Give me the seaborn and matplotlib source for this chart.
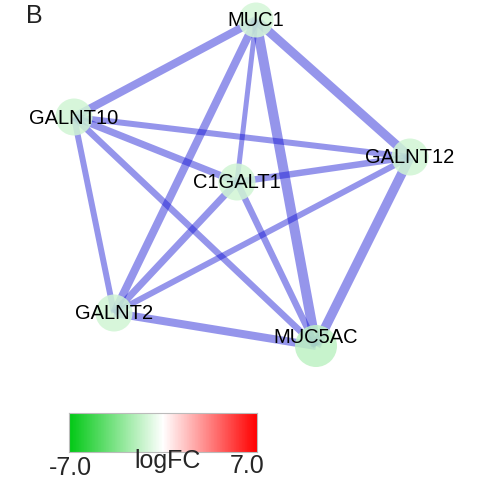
import numpy as np
import pandas as pd
import matplotlib
matplotlib.use('Agg')
import matplotlib.pyplot as plt
from matplotlib.colors import LinearSegmentedColormap
import seaborn as sns

# nodes (layout positions, y grows downward), logFC and node size
genes = ["MUC1", "GALNT10", "GALNT12", "C1GALT1", "GALNT2", "MUC5AC"]
node_x = [256, 74, 410, 237, 114, 316]
node_y = [21, 118, 158, 183, 314, 347]
logfc = [-1.2, -1.3, -1.3, -1.3, -1.3, -1.8]
node_d = [35, 37, 37, 37, 37, 42]

# edges and their scores (drawn as line width, px)
edge_a = ["MUC1", "MUC1", "MUC1", "MUC1", "MUC1",
          "GALNT10", "GALNT10", "GALNT10", "GALNT10",
          "GALNT12", "GALNT12", "GALNT12",
          "C1GALT1", "C1GALT1", "GALNT2"]
edge_b = ["GALNT10", "GALNT12", "C1GALT1", "MUC5AC", "GALNT2",
          "GALNT12", "C1GALT1", "GALNT2", "MUC5AC",
          "C1GALT1", "GALNT2", "MUC5AC",
          "GALNT2", "MUC5AC", "MUC5AC"]
edge_w = [8.0, 9.0, 5.0, 10.0, 8.0,
          6.0, 7.0, 6.0, 6.5,
          6.5, 6.0, 9.5,
          7.0, 6.5, 8.0]

cbar_min, cbar_max = -7.0, 7.0

sns.set_style("white")
plt.rcParams['font.family'] = ['Liberation Sans', 'DejaVu Sans']

cmap = LinearSegmentedColormap.from_list("gwr", ["#00c814", "#ffffff", "#ff0000"])

pos = {g: (x, y) for g, x, y in zip(genes, node_x, node_y)}
px = 0.72  # points per pixel
nodes = pd.DataFrame({"gene": genes, "x": node_x, "y": node_y, "logFC": logfc,
                      "area": [(d * px) ** 2 for d in node_d]})

fig = plt.figure(figsize=(4.85, 4.85), dpi=100)
ax = fig.add_axes([0, 0, 1, 1])

for a, b, w in zip(edge_a, edge_b, edge_w):
    seg = pd.DataFrame({"x": [pos[a][0], pos[b][0]], "y": [pos[a][1], pos[b][1]]})
    sns.lineplot(data=seg, x="x", y="y", estimator=None, sort=False, color="#0b0bd2",
                 alpha=0.43, linewidth=w * px, solid_capstyle="butt", ax=ax, zorder=1)

sns.scatterplot(data=nodes, x="x", y="y", hue="logFC", palette=cmap,
                hue_norm=(cbar_min, cbar_max), size="area",
                sizes=(nodes["area"].min(), nodes["area"].max()), linewidth=0,
                alpha=0.85, legend=False, ax=ax, zorder=2)

for g, x, y in zip(genes, node_x, node_y):
    dy = -9 if g == "MUC5AC" else 0
    ax.text(x, y + dy, g, ha="center", va="center", fontsize=14.5, color="black", zorder=3)

ax.text(34, 16, "B", ha="center", va="center", fontsize=18, color="#222222")

ax.set_xlim(0, 485)
ax.set_ylim(485, 0)
ax.set_axis_off()

# colour scale
cax = fig.add_axes([69 / 485, 32 / 485, 188 / 485, 39 / 485])
grad = np.linspace(cbar_min, cbar_max, 256)[None, :]
sns.heatmap(grad, cmap=cmap, vmin=cbar_min, vmax=cbar_max, cbar=False,
            xticklabels=False, yticklabels=False, ax=cax)
for sp in cax.spines.values():
    sp.set_visible(True)
    sp.set_color("#bbbbbb")
    sp.set_linewidth(0.8)

fig.text(70 / 485, 1 - 468 / 485, f"{cbar_min:.1f}", ha="center", va="center", fontsize=18)
fig.text(168 / 485, 1 - 461 / 485, "logFC", ha="center", va="center", fontsize=18)
fig.text(247 / 485, 1 - 466 / 485, f"{cbar_max:.1f}", ha="center", va="center", fontsize=18)

fig.savefig("out.png", dpi=100)
